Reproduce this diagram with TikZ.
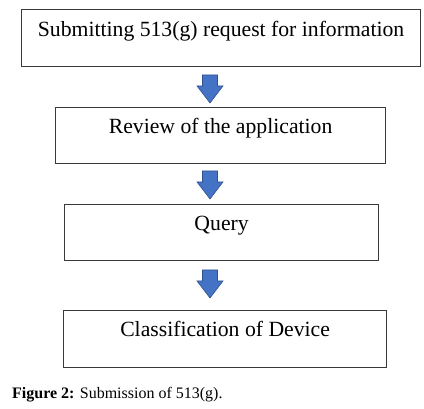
\documentclass[tikz,border=0pt]{standalone}
\usepackage{fontspec}
\setmainfont{Liberation Serif}
\usetikzlibrary{calc}
\definecolor{arrowblue}{HTML}{4472C4}
\definecolor{arrowedge}{HTML}{2F528F}
\definecolor{boxline}{HTML}{3A3A3A}
\begin{document}
\begin{tikzpicture}[x=1pt,y=1pt,
  box/.style={draw=boxline, line width=1.2pt, rectangle, inner sep=0pt, anchor=north west},
  lbl/.style={font=\fontsize{21.7}{24}\selectfont, inner sep=0pt, anchor=base},
  arr/.style={fill=arrowblue, draw=arrowedge, line width=0.6pt, line join=miter}]
\useasboundingbox (0,0) rectangle (424,-409);
\fill[white] (0,0) rectangle (424,-409);
% boxes
\node[box, minimum width=399pt, minimum height=57pt] (b1) at (21,-9) {};
\node[box, minimum width=330pt, minimum height=56pt] (b2) at (55,-107) {};
\node[box, minimum width=314pt, minimum height=56pt] (b3) at (64,-204) {};
\node[box, minimum width=323pt, minimum height=57pt] (b4) at (63,-310) {};
% labels
\node[lbl] (t1) at ($(b1.north)+(0,-28)$) {Submitting 513(g) request for information};
\node[lbl] (t2) at ($(b2.north)+(0,-27)$) {Review of the application};
\node[lbl] (t3) at ($(b3.north)+(0,-27)$) {Query};
\node[lbl] (t4) at ($(b4.north)+(0,-27)$) {Classification of Device};
% block arrows
\coordinate (a1) at (210,-75);
\coordinate (a2) at (210,-171);
\coordinate (a3) at (210,-270);
\foreach \a in {a1,a2,a3}{
  \draw[arr] ($(\a)+(-7.5,0)$) -- ($(\a)+(7.5,0)$) -- ($(\a)+(7.5,-11)$) -- ($(\a)+(13,-11)$)
    -- ($(\a)+(0,-28)$) -- ($(\a)+(-13,-11)$) -- ($(\a)+(-7.5,-11)$) -- cycle;
}
% caption
\node[anchor=base west, inner sep=0pt, font=\fontsize{16}{18}\selectfont] (cap) at (12,-399)
  {\textbf{Figure 2:} Submission of 513(g).};
\end{tikzpicture}
\end{document}
